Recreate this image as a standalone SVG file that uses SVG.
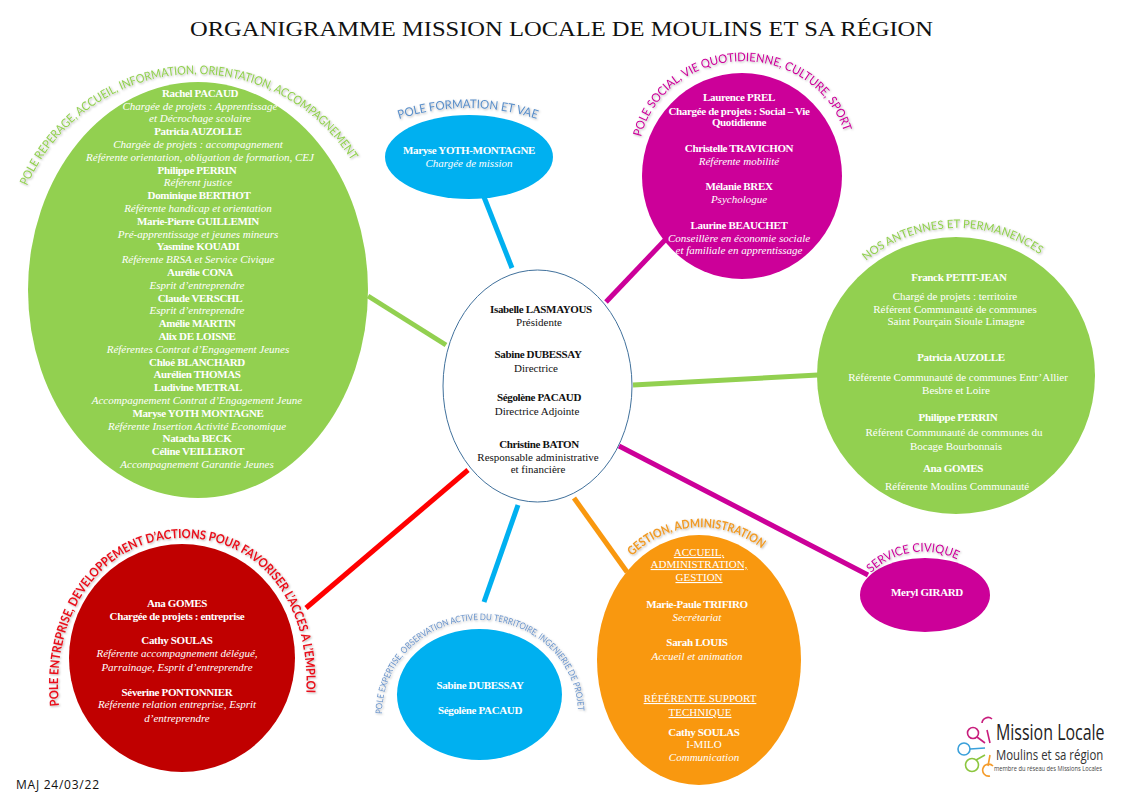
<svg xmlns="http://www.w3.org/2000/svg" width="1123" height="794" viewBox="0 0 1123 794">
<style>
text{font-family:"Liberation Serif","Times New Roman",serif;font-size:11px;fill:#fff;text-anchor:middle}
.n{font-weight:bold;letter-spacing:-.35px}
.r{font-style:italic}
.u{text-decoration:underline}
.k{fill:#111}
.a{font-family:Lato,"Open Sans",sans-serif;text-anchor:start;font-size:12px;filter:url(#sh)}
.c{fill:none;stroke-width:5}
.l{fill:none;stroke-width:1.6}
</style>
<defs>
<filter id="sh" x="-10%" y="-20%" width="120%" height="140%"><feDropShadow dx="1" dy="1" stdDeviation="1" flood-color="#000" flood-opacity=".3"/></filter>
<path id="p1" d="M27,186 A185,189 0 0 1 357,170"/>
<path id="p2" d="M399,119 Q468,97 537,119"/>
<path id="p3" d="M641,137 A105,98 0 0 1 845,135"/>
<path id="p4" d="M866,261 A142,142 0 0 1 1042,256"/>
<path id="p5" d="M59,706 C50,610 105,538 183,538 C265,538 312,610 306,697"/>
<path id="p6" d="M382,714 A98,94 0 0 1 578,714"/>
<path id="p7" d="M632,556 A97,97 0 0 1 762,549"/>
<path id="p8" d="M871,573 A75,75 0 0 1 960,561"/>
</defs>
<rect width="1123" height="794" fill="#fff"/>
<text id="title" x="561.5" y="36" style="font-size:22px;fill:#111" textLength="743" lengthAdjust="spacingAndGlyphs">ORGANIGRAMME MISSION LOCALE DE MOULINS ET SA RÉGION</text>
<g id="connectors">
<path class="c" stroke="#00B0F0" d="M484,197 L512,268"/>
<path class="c" stroke="#CC0099" d="M665,240 L606,302"/>
<path class="c" stroke="#92D050" d="M368,296 L446,345"/>
<path class="c" stroke="#92D050" d="M633,385 L818,375"/>
<path class="c" stroke="#CC0099" d="M619,446 L868,575"/>
<path class="c" stroke="#FF0000" d="M468,470 L306,608"/>
<path class="c" stroke="#00B0F0" d="M518,505 L484,602"/>
<path class="c" stroke="#F9980F" d="M574,498 L627,572"/>
</g>
<g id="pole-reperage">
<ellipse cx="198" cy="290" rx="170" ry="208" fill="#92D050"/>
<text class="a" style="fill:#92D050"><textPath href="#p1" textLength="400" lengthAdjust="spacingAndGlyphs">POLE REPERAGE, ACCUEIL, INFORMATION, ORIENTATION, ACCOMPAGNEMENT</textPath></text>
<text class="n" x="200" y="97">Rachel PACAUD</text>
<text class="r" x="200" y="110">Chargée de projets : Apprentissage</text>
<text class="r" x="200" y="122">et Décrochage scolaire</text>
<text class="n" x="198" y="135">Patricia AUZOLLE</text>
<text class="r" x="198" y="148">Chargée de projets :  accompagnement</text>
<text class="r" x="200" y="161">Référente orientation, obligation de formation, CEJ</text>
<text class="n" x="197" y="174">Philippe PERRIN</text>
<text class="r" x="198" y="186">Référent justice</text>
<text class="n" x="199" y="199">Dominique BERTHOT</text>
<text class="r" x="198" y="212">Référente handicap et orientation</text>
<text class="n" x="198" y="225">Marie-Pierre GUILLEMIN</text>
<text class="r" x="198" y="238">Pré-apprentissage et jeunes mineurs</text>
<text class="n" x="198" y="250">Yasmine KOUADI</text>
<text class="r" x="198" y="263">Référente BRSA et Service Civique</text>
<text class="n" x="200" y="276">Aurélie CONA</text>
<text class="r" x="197" y="289">Esprit d’entreprendre</text>
<text class="n" x="200" y="302">Claude VERSCHL</text>
<text class="r" x="197" y="314">Esprit d’entreprendre</text>
<text class="n" x="197" y="327">Amélie MARTIN</text>
<text class="n" x="197" y="340">Alix DE LOISNE</text>
<text class="r" x="198" y="353">Référentes Contrat d’Engagement Jeunes</text>
<text class="n" x="197" y="366">Chloé BLANCHARD</text>
<text class="n" x="197" y="378">Aurélien THOMAS</text>
<text class="n" x="198" y="391">Ludivine METRAL</text>
<text class="r" x="197" y="404">Accompagnement Contrat d’Engagement Jeune</text>
<text class="n" x="198" y="417">Maryse YOTH MONTAGNE</text>
<text class="r" x="197" y="430">Référente Insertion Activité Economique</text>
<text class="n" x="197" y="442">Natacha BECK</text>
<text class="n" x="198" y="455">Céline VEILLEROT</text>
<text class="r" x="197" y="468">Accompagnement Garantie Jeunes</text>
</g>
<g id="pole-formation">
<ellipse cx="469" cy="157" rx="84" ry="42" fill="#00B0F0"/>
<text class="a" style="fill:#5B8FC9"><textPath href="#p2" textLength="140" lengthAdjust="spacingAndGlyphs">POLE FORMATION ET VAE</textPath></text>
<text class="n" x="469" y="154">Maryse YOTH-MONTAGNE</text>
<text class="r" x="469" y="167">Chargée de mission</text>
</g>
<g id="pole-social">
<ellipse cx="742" cy="176" rx="100" ry="103" fill="#CC0099"/>
<text class="a" style="fill:#CC0099"><textPath href="#p3" textLength="268" lengthAdjust="spacingAndGlyphs">POLE SOCIAL, VIE QUOTIDIENNE,  CULTURE,  SPORT</textPath></text>
<text class="n" x="739" y="101">Laurence PREL</text>
<text class="n" x="739" y="115">Chargée de projets : Social – Vie</text>
<text class="n" x="739" y="126">Quotidienne</text>
<text class="n" x="739" y="152">Christelle TRAVICHON</text>
<text class="r" x="739" y="165">Référente mobilité</text>
<text class="n" x="739" y="190">Mélanie BREX</text>
<text class="r" x="739" y="203">Psychologue</text>
<text class="n" x="739" y="229">Laurine BEAUCHET</text>
<text class="r" x="739" y="242">Conseillère en économie sociale</text>
<text class="r" x="739" y="254">et familiale en apprentissage</text>
</g>
<g id="antennes">
<ellipse cx="956" cy="375.500" rx="139" ry="138.500" fill="#92D050"/>
<text class="a" style="fill:#92D050;font-size:11.5px"><textPath href="#p4" textLength="187" lengthAdjust="spacingAndGlyphs">NOS ANTENNES  ET PERMANENCES</textPath></text>
<text class="n" x="959" y="281">Franck PETIT-JEAN</text>
<text x="955" y="300">Chargé de projets : territoire</text>
<text x="955" y="313">Référent Communauté de communes</text>
<text x="956" y="325">Saint Pourçain Sioule Limagne</text>
<text class="n" x="961" y="361">Patricia AUZOLLE</text>
<text x="958" y="381">Référente Communauté de communes Entr’Allier</text>
<text x="956" y="394">Besbre et Loire</text>
<text class="n" x="958" y="421">Philippe PERRIN</text>
<text x="954" y="436">Référent Communauté de communes du</text>
<text x="956" y="450">Bocage Bourbonnais</text>
<text class="n" x="953" y="472">Ana GOMES</text>
<text x="957" y="490">Référente Moulins Communauté</text>
</g>
<g id="center">
<ellipse cx="537.500" cy="386" rx="94.500" ry="116" fill="#fff" stroke="#41719C" stroke-width="1"/>
<text class="n k" x="541" y="313" style="fill:#111">Isabelle LASMAYOUS</text>
<text x="539" y="326" style="fill:#111">Présidente</text>
<text class="n" x="538" y="358" style="fill:#111">Sabine DUBESSAY</text>
<text x="536" y="372" style="fill:#111">Directrice</text>
<text class="n" x="539" y="401" style="fill:#111">Ségolène PACAUD</text>
<text x="537" y="415" style="fill:#111">Directrice Adjointe</text>
<text class="n" x="539" y="448" style="fill:#111">Christine BATON</text>
<text x="538" y="461" style="fill:#111">Responsable administrative</text>
<text x="538" y="473" style="fill:#111">et financière</text>
</g>
<g id="pole-entreprise">
<ellipse cx="182" cy="658" rx="113" ry="114" fill="#C00000"/>
<text class="a" style="fill:#E8101A;font-weight:bold;font-size:12.5px"><textPath href="#p5" textLength="460" lengthAdjust="spacingAndGlyphs">POLE ENTREPRISE, DEVELOPPEMENT  D’ACTIONS POUR FAVORISER L’ACCES  A L’EMPLOI</textPath></text>
<text class="n" x="177" y="607">Ana GOMES</text>
<text class="n" x="177" y="620">Chargée de projets : entreprise</text>
<text class="n" x="177" y="644">Cathy SOULAS</text>
<text class="r" x="177" y="657">Référente accompagnement délégué,</text>
<text class="r" x="177" y="671">Parrainage, Esprit  d’entreprendre</text>
<text class="n" x="177" y="696">Séverine PONTONNIER</text>
<text class="r" x="177" y="708">Référente relation entreprise, Esprit</text>
<text class="r" x="177" y="722">d’entreprendre</text>
</g>
<g id="pole-expertise">
<ellipse cx="479.500" cy="694.500" rx="82.500" ry="65.500" fill="#00B0F0"/>
<text class="a" style="fill:#6C95CB;font-size:9px"><textPath href="#p6" textLength="298" lengthAdjust="spacingAndGlyphs">POLE EXPERTISE, OBSERVATION ACTIVE  DU TERRITOIRE, INGENIERIE DE PROJET</textPath></text>
<text class="n" x="480" y="689">Sabine DUBESSAY</text>
<text class="n" x="480" y="714">Ségolène PACAUD</text>
</g>
<g id="gestion">
<ellipse cx="699" cy="660" rx="102" ry="125" fill="#F9980F"/>
<text class="a" style="fill:#F09A25;font-weight:bold"><textPath href="#p7" textLength="142" lengthAdjust="spacingAndGlyphs">GESTION, ADMINISTRATION</textPath></text>
<text class="u" x="699" y="556">ACCUEIL,</text>
<text class="u" x="699" y="568">ADMINISTRATION,</text>
<text class="u" x="699" y="581">GESTION</text>
<text class="n" x="697" y="608">Marie-Paule TRIFIRO</text>
<text class="r" x="697" y="621">Secrétariat</text>
<text class="n" x="697" y="646">Sarah LOUIS</text>
<text class="r" x="697" y="660">Accueil et animation</text>
<text class="u" x="700" y="702">RÉFÉRENTE SUPPORT</text>
<text class="u" x="700" y="716">TECHNIQUE</text>
<text class="n" x="704" y="736">Cathy SOULAS</text>
<text x="704" y="748">I-MILO</text>
<text class="r" x="704" y="761">Communication</text>
</g>
<g id="service-civique">
<ellipse cx="925" cy="595" rx="65" ry="37" fill="#CC0099"/>
<text class="a" style="fill:#CC0099"><textPath href="#p8" textLength="93" lengthAdjust="spacingAndGlyphs">SERVICE CIVIQUE</textPath></text>
<text class="n" x="927" y="596">Meryl GIRARD</text>
</g>
<text id="maj" x="16" y="789" style="font-family:'Open Sans',sans-serif;font-size:12px;fill:#111;text-anchor:start" textLength="83">MAJ 24/03/22</text>
<g id="logo">
<g class="l">
<circle cx="973" cy="733" r="5.500" stroke="#C81E7D"/><path stroke="#C81E7D" d="M977,737 L985,743 M982,723 A6,6 0 0 1 992,719 M987,730 L990,743"/>
<circle cx="964" cy="749" r="6" stroke="#3AA0DA"/><path stroke="#3AA0DA" d="M970,749 L985,748"/>
<circle cx="972" cy="765" r="6.500" stroke="#8CC63F"/><path stroke="#8CC63F" d="M976,760 L985,755"/>
<path stroke="#F49B2A" d="M990,755 L988,766 M993,766 A6,6 0 1 0 990,776"/>
</g>
<text transform="translate(996,740) scale(.76,1)" style="font-family:'Open Sans',sans-serif;font-size:21px;fill:#222;text-anchor:start">Mission Locale</text>
<text transform="translate(996,760) scale(.76,1)" style="font-family:'Open Sans',sans-serif;font-size:15px;fill:#333;text-anchor:start">Moulins et sa région</text>
<text transform="translate(994,771) scale(.82,1)" style="font-family:'Open Sans',sans-serif;font-size:7px;fill:#444;text-anchor:start">membre du réseau des Missions Locales</text>
</g>
</svg>
